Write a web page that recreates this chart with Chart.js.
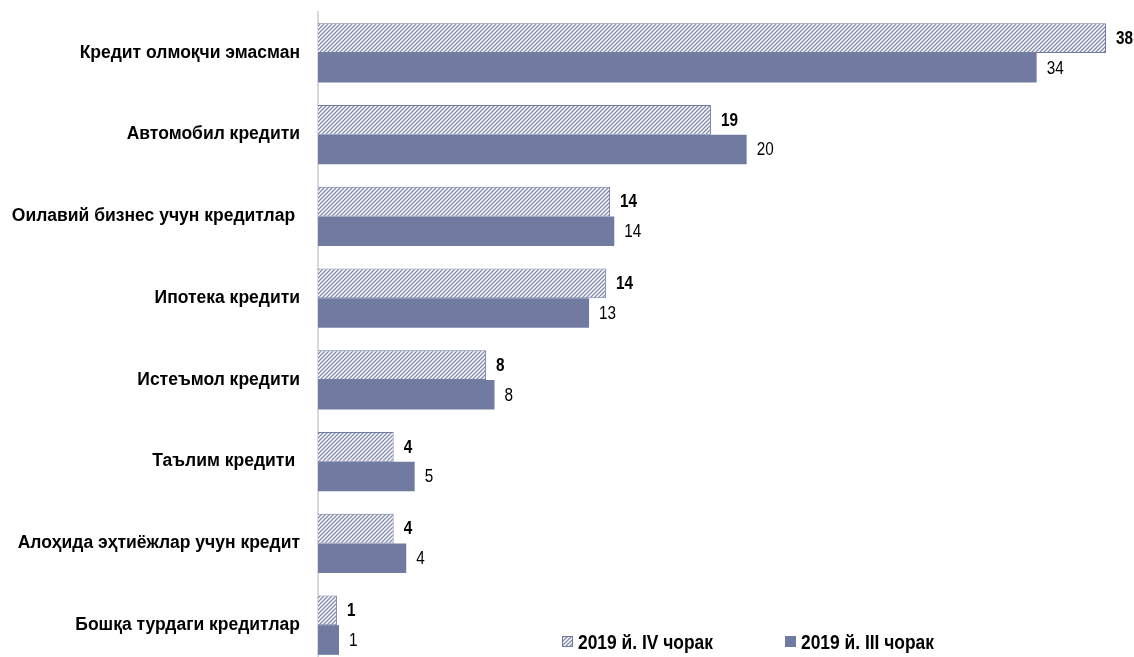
<!DOCTYPE html>
<html>
<head>
<meta charset="utf-8">
<script src="https://cdn.jsdelivr.net/npm/chart.js@4"></script>
<style>
    html, body { margin: 0; padding: 0; background: #fff; overflow: hidden; }
    canvas { display: block; }
</style>
</head>
<body>
<canvas id="creditChart" width="1134" height="668"></canvas>
<script>
const categories = [
    'Кредит олмоқчи эмасман',
    'Автомобил кредити',
    'Оилавий бизнес учун кредитлар ',
    'Ипотека кредити',
    'Истеъмол кредити',
    'Таълим кредити ',
    'Алоҳида эҳтиёжлар учун кредит',
    'Бошқа турдаги кредитлар'
];
const seriesNames = ['2019 й. IV чорак', '2019 й. III чорак'];
const q4Values = [37.5, 18.7, 13.9, 13.7, 8.0, 3.6, 3.6, 0.9];
const q3Values = [34.2, 20.4, 14.1, 12.9, 8.4, 4.6, 4.2, 1.0];

const barColor = 'rgb(113, 122, 160)';
const fontFamily = '"Liberation Sans", Arial, sans-serif';

function makeHatch() {
    const c = document.createElement('canvas');
    c.width = 4;
    c.height = 4;
    const g = c.getContext('2d');
    g.fillStyle = '#ffffff';
    g.fillRect(0, 0, 4, 4);
    g.strokeStyle = 'rgb(128, 137, 176)';
    g.lineWidth = 1.3;
    g.beginPath();
    g.moveTo(-1, 5); g.lineTo(5, -1);
    g.moveTo(-1, 1); g.lineTo(1, -1);
    g.moveTo(3, 5); g.lineTo(5, 3);
    g.stroke();
    return g.createPattern(c, 'repeat');
}

// narrow text: the original uses a condensed face, so squeeze a normal one
function narrowText(ctx, text, x, y, squeeze) {
    ctx.save();
    ctx.translate(x, y);
    ctx.scale(squeeze, 1);
    ctx.fillText(text, 0, 0);
    ctx.restore();
}

const valueLabels = {
    id: 'valueLabels',
    afterDatasetsDraw(chart) {
        const ctx = chart.ctx;
        ctx.save();
        ctx.textBaseline = 'middle';
        ctx.textAlign = 'left';
        ctx.fillStyle = '#000';
        chart.data.datasets.forEach((ds, i) => {
            ctx.font = (i === 0 ? 'bold ' : '') + '18px ' + fontFamily;
            chart.getDatasetMeta(i).data.forEach((bar, j) => {
                narrowText(ctx, String(Math.round(ds.data[j])), bar.x + 10, bar.y + 1, 0.85);
            });
        });
        ctx.restore();
    }
};

const boxLegend = {
    id: 'boxLegend',
    afterDraw(chart) {
        const ctx = chart.ctx;
        const area = chart.chartArea;
        const y = 642;
        const starts = [area.left + 244, area.left + 467];
        ctx.save();
        ctx.font = 'bold 20px ' + fontFamily;
        ctx.textBaseline = 'middle';
        chart.data.datasets.forEach((ds, i) => {
            const x = starts[i];
            ctx.fillStyle = ds.backgroundColor;
            ctx.fillRect(x, y - 6, 11, 11);
            if (i === 0) {
                ctx.strokeStyle = barColor;
                ctx.lineWidth = 1;
                ctx.strokeRect(x + 0.5, y - 5.5, 10, 10);
            }
            ctx.fillStyle = '#000';
            narrowText(ctx, ds.label, x + 16, y + 1, 0.87);
        });
        ctx.restore();
    }
};

function initChart() {
    const ctx = document.getElementById('creditChart').getContext('2d');
    new Chart(ctx, {
        type: 'bar',
        data: {
            labels: categories,
            datasets: [{
                label: seriesNames[0],
                data: q4Values,
                backgroundColor: makeHatch(),
                borderColor: barColor,
                borderWidth: 1,
                borderSkipped: 'left'
            }, {
                label: seriesNames[1],
                data: q3Values,
                backgroundColor: barColor,
                borderWidth: 0
            }]
        },
        options: {
            indexAxis: 'y',
            responsive: false,
            animation: false,
            categoryPercentage: 0.727,
            barPercentage: 1.0,
            layout: { padding: { top: 12, right: 7, bottom: 2, left: 0 } },
            plugins: {
                legend: { display: false },
                tooltip: { enabled: false }
            },
            scales: {
                x: {
                    display: false,
                    min: 0,
                    max: 38.5
                },
                y: {
                    afterFit(scale) {
                        scale.width = 318;
                        scale.paddingTop = 0;
                        scale.paddingBottom = 0;
                    },
                    grid: { display: false, drawTicks: false },
                    border: { color: '#d9d9d9', width: 2 },
                    ticks: {
                        color: '#000',
                        padding: 18,
                        font: { family: fontFamily, size: 17.5, weight: 'bold' }
                    }
                }
            }
        },
        plugins: [valueLabels, boxLegend]
    });
}

window.addEventListener('DOMContentLoaded', initChart);
</script>
</body>
</html>
